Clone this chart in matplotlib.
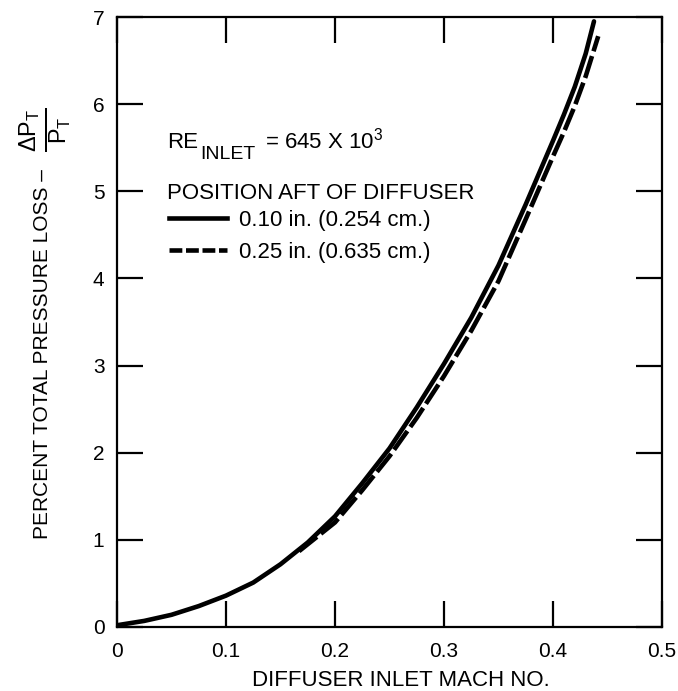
import matplotlib
matplotlib.use("Agg")
import matplotlib.pyplot as plt
from matplotlib.lines import Line2D

# ---- data ----
mach_010 = [0.0, 0.025, 0.05, 0.075, 0.1, 0.125, 0.15, 0.175, 0.2, 0.225,
            0.25, 0.275, 0.3, 0.325, 0.35, 0.375, 0.4, 0.41, 0.42, 0.43, 0.4376]
loss_010 = [0.02, 0.07, 0.14, 0.24, 0.36, 0.51, 0.72, 0.97, 1.27, 1.65,
            2.05, 2.52, 3.02, 3.55, 4.15, 4.85, 5.58, 5.88, 6.20, 6.58, 6.95]

mach_025 = [0.167, 0.2, 0.225, 0.25, 0.275, 0.3, 0.325, 0.35, 0.375, 0.4,
            0.41, 0.42, 0.43, 0.4415]
loss_025 = [0.87, 1.20, 1.57, 1.96, 2.40, 2.88, 3.40, 3.97, 4.68, 5.40,
            5.68, 5.98, 6.32, 6.78]

x_ticks = [0, 0.1, 0.2, 0.3, 0.4, 0.5]
x_tick_labels = ["0", "0.1", "0.2", "0.3", "0.4", "0.5"]
y_ticks = [0, 1, 2, 3, 4, 5, 6, 7]
y_tick_labels = ["0", "1", "2", "3", "4", "5", "6", "7"]

series_labels = ["0.10 in. (0.254 cm.)", "0.25 in. (0.635 cm.)"]
legend_title = "POSITION AFT OF DIFFUSER"
re_main = "RE"
re_sub = "INLET"
re_value = r"= 645 X 10$^{\mathregular{3}}$"
x_label = "DIFFUSER INLET MACH NO."
y_label = "PERCENT TOTAL PRESSURE LOSS –"
y_label_fraction = r"$\frac{\Delta\mathrm{P}_\mathrm{T}}{\mathrm{P}_\mathrm{T}}$"

# ---- style ----
plt.rcParams["font.family"] = ["Liberation Sans", "DejaVu Sans"]
plt.rcParams["mathtext.fontset"] = "custom"
plt.rcParams["mathtext.rm"] = "Liberation Sans"
plt.rcParams["mathtext.it"] = "Liberation Sans"
plt.rcParams["mathtext.bf"] = "Liberation Sans:bold"

FS_TICK = 15
FS = 16
LW = 3.3

fig = plt.figure(figsize=(6.78, 6.91), dpi=100)
ax = fig.add_axes([117 / 678, (691 - 627) / 691, 545 / 678, 610 / 691])

ax.plot(mach_025, loss_025, color="black", lw=LW, linestyle=(0, (5.0, 1.1)),
        dash_capstyle="butt", solid_capstyle="round")
ax.plot(mach_010, loss_010, color="black", lw=LW, solid_capstyle="round")

ax.set_xlim(0, 0.5)
ax.set_ylim(0, 7)
ax.set_xticks(x_ticks)
ax.set_xticklabels(x_tick_labels)
ax.set_yticks(y_ticks)
ax.set_yticklabels(y_tick_labels)

for s in ax.spines.values():
    s.set_linewidth(1.6)
ax.tick_params(axis="both", which="major", direction="in", length=19, width=1.6,
               top=True, right=True, labelsize=FS_TICK)
ax.tick_params(axis="x", pad=11)
ax.tick_params(axis="y", pad=9)

ax.set_xlabel(x_label, fontsize=FS, va="center", ha="center")
ax.xaxis.set_label_coords(0.521, -0.087)
ax.set_ylabel(y_label, fontsize=FS_TICK, va="center", ha="center")
ax.yaxis.set_label_coords(-0.137, 0.448)
ax.text(-0.133, 0.815, y_label_fraction, transform=ax.transAxes, fontsize=24,
        rotation=90, ha="center", va="center", clip_on=False)

# Reynolds-number annotation (RE with large INLET subscript)
ax.text(0.0917, 0.785, re_main, transform=ax.transAxes, fontsize=FS,
        ha="left", va="baseline")
ax.text(0.1523, 0.767, re_sub, transform=ax.transAxes, fontsize=14,
        ha="left", va="baseline")
ax.text(0.2716, 0.785, re_value, transform=ax.transAxes, fontsize=FS,
        ha="left", va="baseline")

# legend title and entries
ax.text(0.0917, 0.7016, legend_title, transform=ax.transAxes, fontsize=FS,
        ha="left", va="baseline")
handles = [
    Line2D([], [], color="black", lw=LW),
    Line2D([], [], color="black", lw=LW, linestyle=(0, (2.8, 0.8))),
]
leg = ax.legend(handles, series_labels, loc="upper left",
                bbox_to_anchor=(0.0954, 0.6836), frameon=False, fontsize=FS,
                handlelength=2.6, handletextpad=0.55,
                labelspacing=0.5, borderpad=0, borderaxespad=0)

fig.savefig("out.png", dpi=100)
